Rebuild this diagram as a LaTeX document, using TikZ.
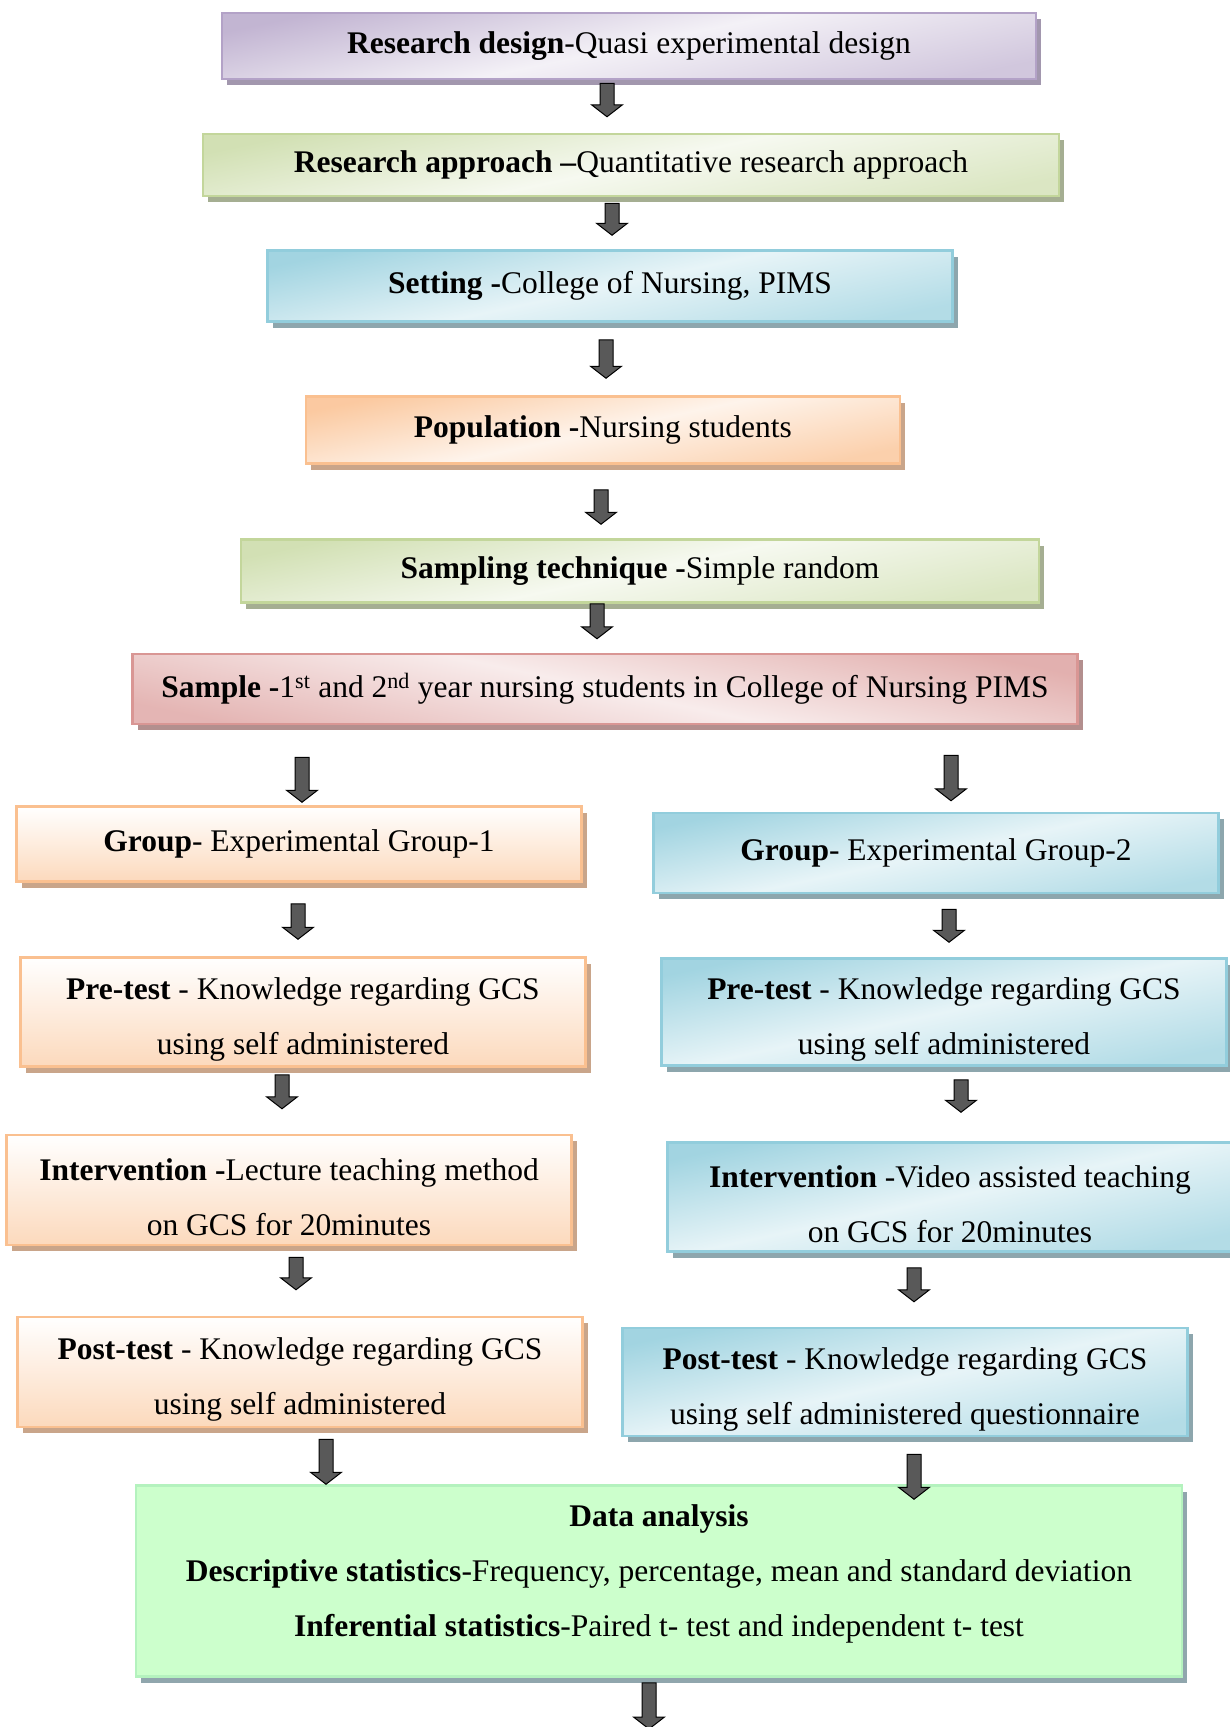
\documentclass[tikz,border=0pt]{standalone}
\usepackage{fontspec}
\setmainfont{Liberation Serif}
\usepackage{tikz}
\usetikzlibrary{shadows, calc}
\definecolor{fcPurple}{HTML}{B3A2C7}
\definecolor{fcPurpleSh}{HTML}{A297AE}
\definecolor{fcGreen}{HTML}{C3D69B}
\definecolor{fcGreenSh}{HTML}{A5AE92}
\definecolor{fcBlue}{HTML}{92CDDC}
\definecolor{fcBlueSh}{HTML}{8DA6AD}
\definecolor{fcOrange}{HTML}{FAC090}
\definecolor{fcOrangeSh}{HTML}{C9A58A}
\definecolor{fcRed}{HTML}{D99694}
\definecolor{fcRedSh}{HTML}{B38F8E}
\definecolor{fcMint}{HTML}{CCFFCC}
\definecolor{fcMintLine}{HTML}{B4F2BE}
\definecolor{fcMintSh}{HTML}{90A6AD}
\definecolor{fcArrow}{HTML}{595959}
\tikzset{
    fcBoxBase/.style={
        rectangle,
        draw,
        line width=2.5pt,
        inner sep=4pt,
        font=\fontsize{31.5}{55}\selectfont,
        align=center
    },
    % Colour variants
    purpleBox/.style={fcBoxBase, draw=fcPurple, top color=fcPurple!80, bottom color=fcPurple!60, middle color=fcPurple!15, shading angle=12, drop shadow={shadow xshift=5pt, shadow yshift=-6pt, fill=fcPurpleSh, opacity=1}},
    greenBox/.style={fcBoxBase, draw=fcGreen, top color=fcGreen!75, bottom color=fcGreen!60, middle color=fcGreen!15, shading angle=12, drop shadow={shadow xshift=5pt, shadow yshift=-6pt, fill=fcGreenSh, opacity=1}},
    blueBox/.style={fcBoxBase, draw=fcBlue, top color=fcBlue!85, bottom color=fcBlue!70, middle color=fcBlue!22, shading angle=12, drop shadow={shadow xshift=5pt, shadow yshift=-6pt, fill=fcBlueSh, opacity=1}},
    orangeBox/.style={fcBoxBase, draw=fcOrange, top color=fcOrange!85, bottom color=fcOrange!75, middle color=fcOrange!18, shading angle=12, drop shadow={shadow xshift=5pt, shadow yshift=-6pt, fill=fcOrangeSh, opacity=1}},
    peachBox/.style={fcBoxBase, draw=fcOrange, top color=white, bottom color=fcOrange!60, drop shadow={shadow xshift=5pt, shadow yshift=-6pt, fill=fcOrangeSh, opacity=1}},
    redBox/.style={fcBoxBase, draw=fcRed, top color=fcRed!75, bottom color=fcRed!70, middle color=fcRed!18, shading angle=-12, drop shadow={shadow xshift=5pt, shadow yshift=-6pt, fill=fcRedSh, opacity=1}},
    mintBox/.style={fcBoxBase, draw=fcMintLine, fill=fcMint, drop shadow={shadow xshift=5pt, shadow yshift=-6pt, fill=fcMintSh, opacity=1}},
    % Arrows
    fcArrowBase/.style={fill=fcArrow, draw=black, line width=1pt}
}
% text padding for the two-line boxes
\newcommand{\padTop}{\rule{0pt}{36pt}}
\newcommand{\padBottom}{\rule[-21pt]{0pt}{1pt}}
% block arrow: x, upper anchor, top gap, lower anchor, tip gap
\newcommand{\flowArrow}[5]{%
  \draw[fcArrowBase] let \p1=(#2), \p2=(#4) in
    (#1pt-7pt,\y1-#3pt) -- (#1pt+7pt,\y1-#3pt) -- (#1pt+7pt,\y2+#5pt+12pt)
    -- (#1pt+15.5pt,\y2+#5pt+12pt) -- (#1pt,\y2+#5pt)
    -- (#1pt-15.5pt,\y2+#5pt+12pt) -- (#1pt-7pt,\y2+#5pt+12pt) -- cycle;}

\begin{document}
\begin{tikzpicture}[
    x=1pt, y=-1pt,
    wide/.style={minimum width=565pt}
]
\path[use as bounding box, fill=white] (0,0) rectangle (1230,1727);

% main column
\node[purpleBox, minimum width=814pt, minimum height=66pt] (design) at (629,46) {\textbf{Research design}-Quasi experimental design};
\node[greenBox, minimum width=856pt, minimum height=62pt] (approach) at (631,165) {\textbf{Research approach –}Quantitative research approach};
\node[blueBox, minimum width=685pt, minimum height=71pt] (setting) at (610,286) {\textbf{Setting -}College of Nursing, PIMS};
\node[orangeBox, minimum width=594pt, minimum height=67pt] (population) at (603,430) {\textbf{Population -}Nursing students};
\node[greenBox, minimum width=798pt, minimum height=63pt] (sampling) at (640,571) {\textbf{Sampling technique -}Simple random};
\node[redBox, minimum width=945pt, minimum height=70pt] (sample) at (605,689) {\textbf{Sample -}1\textsuperscript{st} and 2\textsuperscript{nd} year nursing students in College of Nursing PIMS};

% group 1
\node[peachBox, wide, minimum height=75pt] (groupA) at (299,844) {\textbf{Group}- Experimental Group-1};
\node[peachBox, wide, minimum height=109pt] (preA) at (303,1012) {\padTop\textbf{Pre-test} - Knowledge regarding GCS\\using self administered};
\node[peachBox, wide, minimum height=110pt] (interA) at (289,1190) {\padTop\textbf{Intervention -}Lecture teaching method\\on GCS for 20minutes};
\node[peachBox, wide, minimum height=110pt] (postA) at (300,1372) {\padTop\textbf{Post-test} - Knowledge regarding GCS\\using self administered};

% group 2
\node[blueBox, wide, minimum height=80pt] (groupB) at (936,853) {\textbf{Group}- Experimental Group-2};
\node[blueBox, wide, minimum height=107pt] (preB) at (944,1012) {\padTop\textbf{Pre-test} - Knowledge regarding GCS\\using self administered};
\node[blueBox, wide, minimum height=109pt] (interB) at (950,1197) {\padTop\textbf{Intervention} -Video assisted teaching\\on GCS for 20minutes};
\node[blueBox, wide, minimum height=108pt] (postB) at (905,1382) {\padTop\textbf{Post-test} - Knowledge regarding GCS\\using self administered questionnaire};

\node[mintBox, minimum width=1046pt, minimum height=191pt] (analysis) at (659,1581) {\textbf{Data analysis}\\\textbf{Descriptive statistics}-Frequency, percentage, mean and standard deviation\\\textbf{Inferential statistics}-Paired t- test and independent t- test\padBottom};
\coordinate (tail) at (649,1729);

% arrows
\flowArrow{607}{design.south}{3}{approach.north}{16}
\flowArrow{612}{approach.south}{6}{setting.north}{14}
\flowArrow{606}{setting.south}{17}{population.north}{17}
\flowArrow{601}{population.south}{25}{sampling.north}{14}
\flowArrow{597}{sampling.south}{0}{sample.north}{14}
\flowArrow{302}{sample.south}{32}{groupA.north}{3}
\flowArrow{951}{sample.south}{30}{groupB.north}{11}
\flowArrow{298}{groupA.south}{21}{preA.north}{17}
\flowArrow{949}{groupB.south}{15}{preB.north}{15}
\flowArrow{282}{preA.south}{7}{interA.north}{25}
\flowArrow{961}{preB.south}{13}{interB.north}{29}
\flowArrow{296}{interA.south}{11}{postA.north}{26}
\flowArrow{914}{interB.south}{15}{postB.north}{25}
\flowArrow{326}{postA.south}{11}{analysis.north}{0}
\flowArrow{914}{postB.south}{17}{analysis.north}{-15}
\flowArrow{649}{analysis.south}{5}{tail}{0}
\end{tikzpicture}
\end{document}
